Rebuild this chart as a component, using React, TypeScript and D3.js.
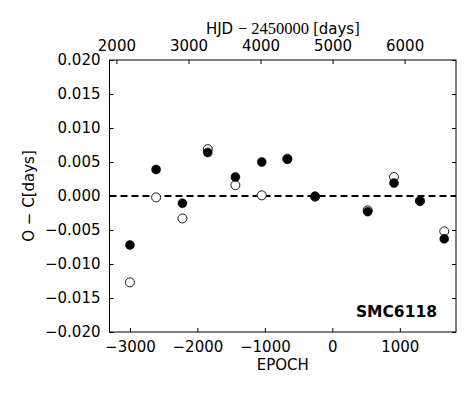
import React, { useEffect, useRef } from 'react';
import * as d3 from 'd3';

// O-C values (days)
const epochs = [-3000, -2612, -2222, -1846, -1437, -1046, -667, -256, 524, 914, 1299, 1659];
const ocFilled = [-0.0072, 0.0039, -0.00106, 0.0064, 0.0028, 0.0050, 0.0054, -0.00003, -0.0023, 0.0019, -0.00076, -0.0063];
const ocOpen = [-0.0127, -0.0002, -0.0033, 0.0069, 0.0016, 0.0001, 0.0055, -0.0001, -0.0021, 0.0028, -0.0007, -0.0052];

const epochTicks = [-3000, -2000, -1000, 0, 1000];
const hjdTicks = [2000, 3000, 4000, 5000, 6000];
const ocTicks = [-0.02, -0.015, -0.01, -0.005, 0, 0.005, 0.01, 0.015, 0.02];
const starName = 'SMC6118';

const W = 474;
const H = 395;
const margin = { top: 60, right: 18, bottom: 63, left: 109.5 };
const FONT = '"DejaVu Sans", sans-serif';

const App = () => {
    const svgRef = useRef<SVGSVGElement>(null);

    useEffect(() => {
        const svg = d3.select(svgRef.current);
        svg.selectAll('*').remove();

        const width = W - margin.left - margin.right;
        const height = H - margin.top - margin.bottom;

        const x = d3.scaleLinear().domain([-3303, 1833]).range([0, width]);
        const xTop = d3.scaleLinear().domain([1904, 6713]).range([0, width]);
        const y = d3.scaleLinear().domain([-0.02, 0.02]).range([height, 0]);

        const g = svg.append('g').attr('transform', `translate(${margin.left},${margin.top})`);

        const styleAxis = (sel: any) => {
            sel.select('.domain').remove();
            sel.selectAll('.tick line').attr('stroke', '#000').attr('stroke-width', 1);
            sel.selectAll('.tick text')
                .attr('font-family', FONT)
                .attr('font-size', 15)
                .attr('fill', '#000');
        };

        g.append('g')
            .attr('transform', `translate(0,${height})`)
            .call(d3.axisBottom(x).tickValues(epochTicks).tickSizeInner(-4).tickSizeOuter(0).tickPadding(9).tickFormat(d3.format('d')))
            .call(styleAxis);

        g.append('g')
            .call(d3.axisTop(xTop).tickValues(hjdTicks).tickSizeInner(-4).tickSizeOuter(0).tickPadding(9).tickFormat(d3.format('d')))
            .call(styleAxis);

        g.append('g')
            .call(d3.axisLeft(y).tickValues(ocTicks).tickSizeInner(-4).tickSizeOuter(0).tickPadding(9).tickFormat(d3.format('.3f')))
            .call(styleAxis);

        g.append('g')
            .attr('transform', `translate(${width},0)`)
            .call(d3.axisRight(y).tickValues(ocTicks).tickSizeInner(-4).tickSizeOuter(0).tickFormat(() => ''))
            .call(styleAxis);

        // zero line
        g.append('line')
            .attr('x1', 0).attr('x2', width)
            .attr('y1', y(0)).attr('y2', y(0))
            .attr('stroke', '#000')
            .attr('stroke-width', 2)
            .attr('stroke-dasharray', '7,4');

        // open circles first, filled on top
        g.selectAll('.open')
            .data(epochs.map((e, i) => [e, ocOpen[i]]))
            .join('circle')
            .attr('class', 'open')
            .attr('cx', d => x(d[0]))
            .attr('cy', d => y(d[1]))
            .attr('r', 4.5)
            .attr('fill', '#fff')
            .attr('stroke', '#000')
            .attr('stroke-width', 0.9);

        g.selectAll('.filled')
            .data(epochs.map((e, i) => [e, ocFilled[i]]))
            .join('circle')
            .attr('class', 'filled')
            .attr('cx', d => x(d[0]))
            .attr('cy', d => y(d[1]))
            .attr('r', 4.5)
            .attr('fill', '#000')
            .attr('stroke', '#000')
            .attr('stroke-width', 0.5);

        // frame
        g.append('rect')
            .attr('width', width).attr('height', height)
            .attr('fill', 'none')
            .attr('stroke', '#000')
            .attr('stroke-width', 1);

        g.append('text')
            .attr('x', width - 19)
            .attr('y', height - 15)
            .attr('text-anchor', 'end')
            .attr('font-family', FONT)
            .attr('font-weight', 'bold')
            .attr('font-size', 15.5)
            .text(starName);

        // axis titles
        svg.append('text')
            .attr('x', margin.left + width / 2)
            .attr('y', 370)
            .attr('text-anchor', 'middle')
            .attr('font-family', FONT)
            .attr('font-size', 15)
            .text('EPOCH');

        svg.append('text')
            .attr('transform', `translate(34,${margin.top + height / 2}) rotate(-90)`)
            .attr('text-anchor', 'middle')
            .attr('font-family', FONT)
            .attr('font-size', 15)
            .text('O − C[days]');

        const top = svg.append('text')
            .attr('x', margin.left + width / 2)
            .attr('y', 34)
            .attr('text-anchor', 'middle')
            .attr('font-family', FONT)
            .attr('font-size', 15);
        top.append('tspan').text('HJD ');
        top.append('tspan').attr('font-family', '"Liberation Serif", serif').attr('font-size', 16.5).text('− 2450000 [');
        top.append('tspan').text('days');
        top.append('tspan').attr('font-family', '"Liberation Serif", serif').attr('font-size', 16.5).text(']');
    }, []);

    return (
        <svg ref={svgRef} width={W} height={H} style={{ position: 'absolute', left: 0, top: 0, background: '#fff' }} />
    );
};

export default App;
